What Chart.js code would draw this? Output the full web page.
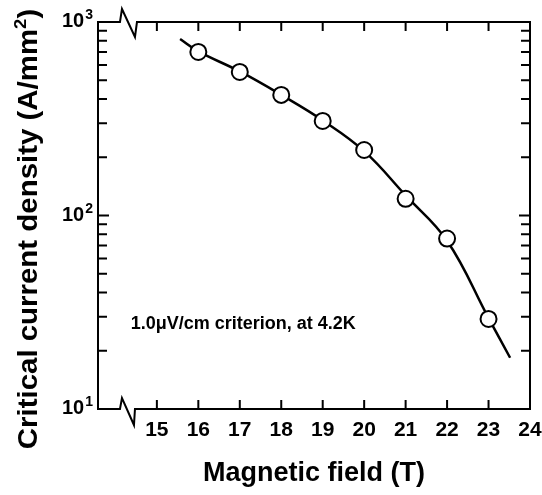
<!DOCTYPE html>
<html>
<head>
<meta charset="utf-8">
<title>Critical current density vs magnetic field</title>
<script src="https://cdn.jsdelivr.net/npm/chart.js@4.4.1/dist/chart.umd.min.js"></script>
<style>
  html, body { margin: 0; padding: 0; background: #fff; }
</style>
</head>
<body>
<canvas id="jcChart" width="542" height="495"></canvas>
<script>
/* data */
const fieldT     = [16, 17, 18, 19, 20, 21, 22, 23];
const jcMeasured = [700, 552, 420, 308, 218, 122, 76, 29.2];
const fitField   = [15.56, 16, 17, 18, 19, 20, 21, 22, 23, 23.52];
const fitJc      = [817, 705, 555, 420, 310, 215, 127, 74, 29.5, 18.4];
const xTicks     = [15, 16, 17, 18, 19, 20, 21, 22, 23, 24];
const yDecades   = [10, 100, 1000];
const yMinor     = [20, 30, 40, 50, 60, 70, 80, 90, 200, 300, 400, 500, 600, 700, 800, 900];
const noteText   = "1.0\u03bcV/cm criterion, at 4.2K";
const yTitle     = ["Critical current density (A/mm", "2", ")"];

const FONT = "'Liberation Sans', Arial, Helvetica, sans-serif";

// frame, inward ticks, axis breaks, y labels/title and the note
const framePlugin = {
  id: "frame",
  beforeDatasetsDraw(chart) {
    const { ctx, chartArea: a, scales: { x, y } } = chart;
    ctx.save();
    ctx.strokeStyle = "#000";
    ctx.lineWidth = 2;
    ctx.lineCap = "square";

    const b1 = x.getPixelForValue(14.11), b2 = x.getPixelForValue(14.52);
    ctx.beginPath();
    ctx.moveTo(a.left, a.top); ctx.lineTo(a.left, a.bottom);
    ctx.moveTo(a.right, a.top); ctx.lineTo(a.right, a.bottom);
    // top with break
    ctx.moveTo(a.left, a.top); ctx.lineTo(b1, a.top);
    ctx.lineTo(b1 + 2, a.top - 13); ctx.lineTo(b2 - 2, a.top + 15); ctx.lineTo(b2, a.top);
    ctx.lineTo(a.right, a.top);
    // bottom with break
    ctx.moveTo(a.left, a.bottom); ctx.lineTo(b1, a.bottom);
    ctx.lineTo(b1 + 2, a.bottom - 11); ctx.lineTo(b2 - 3, a.bottom + 16); ctx.lineTo(b2 - 2, a.bottom);
    ctx.lineTo(a.right, a.bottom);
    ctx.stroke();

    ctx.beginPath();
    xTicks.forEach(v => {
      if (v >= x.max) return;
      const px = x.getPixelForValue(v);
      ctx.moveTo(px, a.bottom); ctx.lineTo(px, a.bottom - 8);
      ctx.moveTo(px, a.top); ctx.lineTo(px, a.top + 8);
    });
    yMinor.concat([100]).forEach(v => {
      const py = y.getPixelForValue(v);
      const len = v === 100 ? 10 : 8;
      ctx.moveTo(a.left, py); ctx.lineTo(a.left + len, py);
      ctx.moveTo(a.right, py); ctx.lineTo(a.right - len, py);
    });
    ctx.stroke();

    ctx.fillStyle = "#000";

    // y decade labels 10^n
    yDecades.forEach(v => {
      const py = y.getPixelForValue(v);
      const exp = String(Math.round(Math.log10(v)));
      ctx.font = "bold 14px " + FONT;
      const ws = ctx.measureText(exp).width;
      const supX = a.left - 5 - ws;
      ctx.textAlign = "left";
      ctx.textBaseline = "alphabetic";
      ctx.fillText(exp, supX, py - 3);
      ctx.font = "bold 20px " + FONT;
      ctx.textAlign = "right";
      ctx.fillText("10", supX - 1, py + 5);
    });

    // y axis title, rotated
    ctx.save();
    ctx.translate(27, 229);
    ctx.rotate(-Math.PI / 2);
    ctx.scale(1.09, 1);
    const big = "bold 27px " + FONT, small = "bold 17px " + FONT;
    ctx.font = big;
    const w1 = ctx.measureText(yTitle[0]).width, w3 = ctx.measureText(yTitle[2]).width;
    ctx.font = small;
    const w2 = ctx.measureText(yTitle[1]).width;
    let tx = -(w1 + w2 + w3) / 2;
    ctx.textAlign = "left";
    ctx.textBaseline = "alphabetic";
    ctx.font = big;
    ctx.fillText(yTitle[0], tx, 10); tx += w1;
    ctx.font = small;
    ctx.fillText(yTitle[1], tx, -1); tx += w2;
    ctx.font = big;
    ctx.fillText(yTitle[2], tx, 10);
    ctx.restore();

    ctx.font = "bold 18px " + FONT;
    ctx.textAlign = "left";
    ctx.textBaseline = "middle";
    ctx.fillText(noteText, x.getPixelForValue(14.37), y.getPixelForValue(27.5));
    ctx.restore();
  }
};

new Chart(document.getElementById("jcChart"), {
  type: "scatter",
  data: {
    datasets: [
      {
        label: "Fit",
        data: fitField.map((f, i) => ({ x: f, y: fitJc[i] })),
        showLine: true,
        borderColor: "#000",
        borderWidth: 2.5,
        pointRadius: 0,
        tension: 0.4,
        order: 2
      },
      {
        label: "Measured",
        data: fieldT.map((f, i) => ({ x: f, y: jcMeasured[i] })),
        showLine: false,
        pointRadius: 8,
        pointBackgroundColor: "#fff",
        pointBorderColor: "#000",
        pointBorderWidth: 2,
        order: 1
      }
    ]
  },
  options: {
    responsive: false,
    animation: false,
    devicePixelRatio: 1,
    layout: { padding: { top: 22, right: 0, left: 0, bottom: 0 } },
    plugins: { legend: { display: false }, tooltip: { enabled: false } },
    scales: {
      x: {
        type: "linear",
        min: 13.58,
        max: 24,
        afterBuildTicks: s => { s.ticks = xTicks.map(v => ({ value: v })); },
        afterFit: s => { s.height = 86; s.paddingRight = 12; s.paddingLeft = 0; },
        grid: { display: false, drawTicks: false },
        border: { display: false },
        ticks: { color: "#000", padding: 9, maxRotation: 0, font: { family: FONT, size: 21, weight: "bold" } },
        title: {
          display: true,
          text: "Magnetic field (T)",
          color: "#000",
          padding: { top: 0, bottom: 5 },
          font: { family: FONT, size: 27, weight: "bold" }
        }
      },
      y: {
        type: "logarithmic",
        min: 10,
        max: 1000,
        afterBuildTicks: s => { s.ticks = yDecades.map(v => ({ value: v })); },
        afterFit: s => { s.width = 98; s.paddingTop = 0; s.paddingBottom = 0; },
        grid: { display: false, drawTicks: false },
        border: { display: false },
        ticks: { display: false },
        title: { display: false }
      }
    }
  },
  plugins: [framePlugin]
});
</script>
</body>
</html>
